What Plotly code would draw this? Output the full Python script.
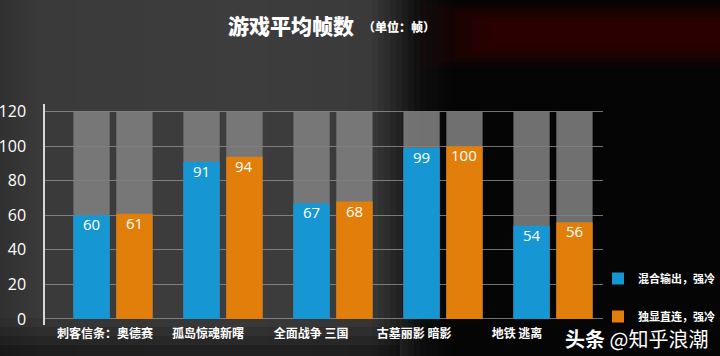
import plotly.graph_objects as go

categories = ["刺客信条：奥德赛", "孤岛惊魂新曙", "全面战争 三国", "古墓丽影 暗影", "地铁 逃离"]
mixed_output = [60, 91, 67, 99, 54]
direct_gpu = [61, 94, 68, 100, 56]
scale_max = [120, 120, 120, 120, 120]
series_names = ["混合输出，强冷", "独显直连，强冷"]
y_ticks = [0, 20, 40, 60, 80, 100, 120]

W, H = 720, 356
L, R, T, B = 45, 117, 104, 31
pw = W - L - R
ph = H - T - B

def px_x(p):
    return (p - L) / pw

def px_y(p):
    return (H - B - p) / ph

CJK = "Noto Sans CJK SC"
BLUE = "#1697d3"
ORANGE = "#e27f0b"
GRAY = "rgba(128,128,128,0.88)"

pos = list(range(len(categories)))
bw = 0.33
off_a, off_b = -0.36, 0.03
pos_a = [p + off_a + bw / 2 for p in pos]
pos_b = [p + off_b + bw / 2 for p in pos]

fig = go.Figure()
fig.add_bar(x=pos, y=scale_max, width=bw, offset=off_a, marker_color=GRAY,
            marker_line_width=0, showlegend=False, hoverinfo="skip")
fig.add_bar(x=pos, y=scale_max, width=bw, offset=off_b, marker_color=GRAY,
            marker_line_width=0, showlegend=False, hoverinfo="skip")
fig.add_bar(x=pos, y=mixed_output, width=bw, offset=off_a, marker_color=BLUE,
            marker_line_width=0, name=series_names[0], legendgroup="a")
fig.add_bar(x=pos, y=direct_gpu, width=bw, offset=off_b, marker_color=ORANGE,
            marker_line_width=0, name=series_names[1], legendgroup="b")

# invisible helper trace for the label axis
fig.add_scatter(x=pos, y=[0] * len(categories), xaxis="x2",
                mode="markers", marker=dict(opacity=0), showlegend=False, hoverinfo="skip")

# background gradient (decoration)
stops = [(0, (48, 48, 48)), (40, (58, 58, 58)), (250, (61, 61, 61)), (370, (58, 58, 58)),
         (392, (40, 40, 40)), (420, (14, 14, 14)), (450, (5, 5, 5)), (720, (5, 5, 5))]
def col_at(xp):
    for (x0, c0), (x1, c1) in zip(stops, stops[1:]):
        if x0 <= xp <= x1:
            t = (xp - x0) / (x1 - x0)
            return tuple(int(round(a + (b - a) * t)) for a, b in zip(c0, c1))
    return stops[-1][1]

shapes = []
step = 6
for xs in range(0, W, step):
    c = col_at(xs + step / 2)
    shapes.append(dict(type="rect", xref="paper", yref="paper", layer="below",
                       x0=px_x(xs), x1=px_x(xs + step + 1), y0=px_y(H), y1=px_y(0),
                       fillcolor="rgb(%d,%d,%d)" % c, line_width=0))
for i, a in enumerate([0.08, 0.12, 0.16, 0.2]):
    y0 = 318 + i * 9
    shapes.append(dict(type="rect", xref="paper", yref="paper", layer="below",
                       x0=px_x(0), x1=px_x(400), y0=px_y(H), y1=px_y(y0),
                       fillcolor="rgba(0,0,0,%.2f)" % a, line_width=0))
for (x0, y0, y1, a) in [(420, 3, 67, 0.07), (438, 7, 62, 0.09), (455, 12, 57, 0.11),
                        (472, 17, 52, 0.12), (490, 22, 46, 0.10)]:
    shapes.append(dict(type="rect", xref="paper", yref="paper", layer="below",
                       x0=px_x(x0), x1=px_x(W), y0=px_y(y1), y1=px_y(y0),
                       fillcolor="rgba(110,0,0,%.2f)" % a, line_width=0))

annotations = [
    dict(text="游戏平均帧数", x=px_x(226), y=px_y(25), xref="paper", yref="paper",
         xanchor="left", yanchor="middle", showarrow=False,
         font=dict(family=CJK, size=21, color="white", weight=900)),
    dict(text="（单位：帧）", x=px_x(361), y=px_y(27), xref="paper", yref="paper",
         xanchor="left", yanchor="middle", showarrow=False,
         font=dict(family=CJK, size=12, color="white", weight=900)),
    dict(text="<b>头条</b> @知乎浪潮", x=px_x(563), y=px_y(338), xref="paper", yref="paper",
         xanchor="left", yanchor="middle", showarrow=False,
         font=dict(family=CJK, size=20, color="white")),
]

# value labels just inside the bar tops
for xs, vals in ((pos_a, mixed_output), (pos_b, direct_gpu)):
    for xv, v in zip(xs, vals):
        annotations.append(dict(text=str(v), x=xv, y=v, xref="x", yref="y",
                                xanchor="center", yanchor="middle", yshift=-9,
                                showarrow=False,
                                font=dict(family="Open Sans", size=15, color="white")))

fig.update_layout(
    width=W, height=H,
    margin=dict(l=L, r=R, t=T, b=B, pad=0, autoexpand=False),
    paper_bgcolor="#000000",
    plot_bgcolor="rgba(0,0,0,0)",
    barmode="overlay",
    shapes=shapes,
    annotations=annotations,
    showlegend=True,
    legend=dict(x=px_x(598), y=px_y(264), xanchor="left", yanchor="top",
                bgcolor="rgba(0,0,0,0)",
                font=dict(family=CJK, size=11, color="white", weight=600),
                tracegroupgap=19, itemwidth=30),
    xaxis=dict(type="linear", range=[-0.618, 4.4545], showticklabels=False,
               showgrid=False, zeroline=False, showline=False, automargin=False),
    xaxis2=dict(overlaying="x", anchor="y", side="bottom", type="linear",
                range=[-0.583, 4.835], tickmode="array",
                tickvals=pos, ticktext=categories,
                showgrid=False, zeroline=False, showline=False, ticks="",
                automargin=False,
                tickfont=dict(family=CJK, size=12, color="white", weight=700)),
    yaxis=dict(range=[-3.5, 124.5], tickmode="array", tickvals=y_ticks,
               showgrid=True, gridcolor="rgba(150,150,150,0.75)", gridwidth=1,
               zeroline=False, showline=True, linecolor="#d8d8d8", linewidth=1.5,
               ticks="", ticklabelstandoff=14, automargin=False,
               tickfont=dict(family="Open Sans", size=16, color="white")),
    font=dict(family=CJK, color="white"),
)

fig.write_html("out.html")
